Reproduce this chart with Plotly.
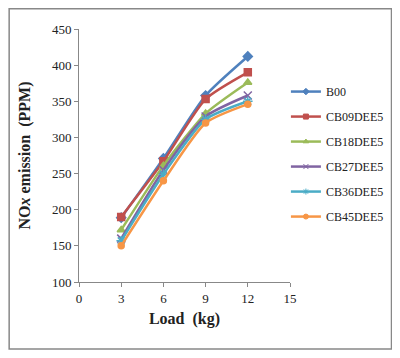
import plotly.graph_objects as go

loads = [3, 6, 9, 12]
series_names = ["B00", "CB09DEE5", "CB18DEE5", "CB27DEE5", "CB36DEE5", "CB45DEE5"]
b00 = [189, 271, 358, 412]
cb09 = [190, 267, 353, 390]
cb18 = [172, 261, 333, 376]
cb27 = [160, 255, 329, 358]
cb36 = [157, 249, 325, 350]
cb45 = [150, 240, 320, 346]
series_values = [b00, cb09, cb18, cb27, cb36, cb45]

colors = ["#4F81BD", "#C0504D", "#9BBB59", "#8064A2", "#4BACC6", "#F79646"]
symbols = ["diamond", "square", "triangle-up", "x-thin-open", "asterisk-open", "circle"]
sizes = [7, 7, 7, 8, 8, 6]

fig = go.Figure()
for name, vals, c, s, sz in zip(series_names, series_values, colors, symbols, sizes):
    fig.add_trace(go.Scatter(
        x=loads, y=vals, name=name, mode="lines+markers",
        line=dict(color=c, width=2.5, shape="spline", smoothing=0.6),
        marker=dict(symbol=s, size=sz, color=c, line=dict(color=c, width=1.5)),
        legendgroup=name, showlegend=False,
    ))
# legend entries with smaller markers, as in the reference
for name, c, s in zip(series_names, colors, symbols):
    fig.add_trace(go.Scatter(
        x=[None], y=[None], name=name, mode="lines+markers",
        line=dict(color=c, width=2.5),
        marker=dict(symbol=s, size=5, color=c, line=dict(color=c, width=1)),
        legendgroup=name, showlegend=True,
    ))

font_family = "Liberation Serif"
fig.update_layout(
    width=392, height=350,
    margin=dict(l=71, r=109, t=21, b=76),
    paper_bgcolor="white", plot_bgcolor="white",
    font=dict(family=font_family, size=13, color="#222"),
    showlegend=True,
    legend=dict(x=0.976, y=0.81, xanchor="left", yanchor="top",
                font=dict(family=font_family, size=12, color="#222"),
                tracegroupgap=6, bgcolor="rgba(0,0,0,0)", itemwidth=30),
    xaxis=dict(range=[0, 15], tickvals=[0, 3, 6, 9, 12, 15], showgrid=False,
               zeroline=False, showline=True, linecolor="#888", linewidth=1,
               ticks="outside", ticklen=4, tickcolor="#888",
               tickfont=dict(family=font_family, size=13),
               title=dict(text="<b>Load  (kg)</b>", font=dict(size=16, family=font_family), standoff=8)),
    yaxis=dict(range=[100, 450], tickvals=[100, 150, 200, 250, 300, 350, 400, 450], showgrid=False,
               zeroline=False, showline=True, linecolor="#888", linewidth=1,
               ticks="outside", ticklen=4, tickcolor="#888",
               tickfont=dict(family=font_family, size=13),
               title=dict(text="<b>NO<i>x</i> emission  (PPM)</b>", font=dict(size=16, family=font_family), standoff=17)),
)
fig.add_shape(type="rect", xref="paper", yref="paper",
              x0=-0.331, x1=1.481, y0=-0.265, y1=1.08,
              line=dict(color="#888", width=1.5), fillcolor="rgba(0,0,0,0)", layer="below")

fig.write_html("out.html")
